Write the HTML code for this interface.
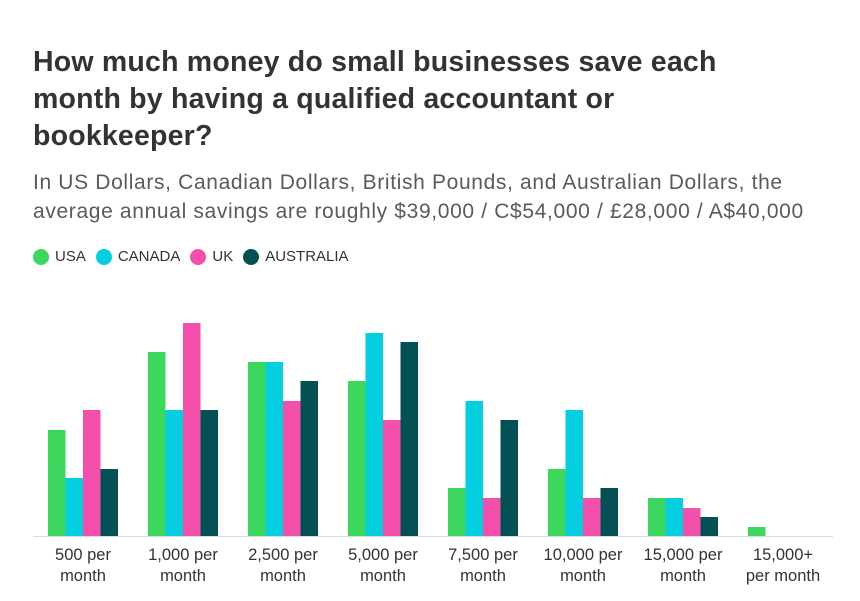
<!DOCTYPE html>
<html><head><meta charset="utf-8"><style>
body{margin:0;width:860px;height:601px;background:#fff;font-family:"Liberation Sans",sans-serif;overflow:hidden;position:relative}
h1{position:absolute;left:33px;top:44px;margin:0;font-size:28.5px;line-height:37px;font-weight:bold;color:#333;width:720px;letter-spacing:0.2px}
.sub{position:absolute;left:33px;top:168px;font-size:21px;line-height:29px;color:#5a5a5a;width:815px;letter-spacing:0.65px}
.leg{position:absolute;top:248px;left:33px;font-size:15px;color:#333;display:flex;align-items:center}
.leg span.d{display:inline-block;width:16px;height:16px;border-radius:50%;margin-right:6px}
.leg span.t{margin-right:10px}
</style></head><body>
<h1>How much money do small businesses save each month by having a qualified accountant or bookkeeper?</h1>
<div class="sub">In US Dollars, Canadian Dollars, British Pounds, and Australian Dollars, the average annual savings are roughly $39,000 / C$54,000 / £28,000 / A$40,000</div>
<div class="leg"><span class="d" style="background:#3bd85d"></span><span class="t">USA</span><span class="d" style="background:#03cfe0"></span><span class="t">CANADA</span><span class="d" style="background:#f54fac"></span><span class="t">UK</span><span class="d" style="background:#035055"></span><span class="t">AUSTRALIA</span></div>
<svg width="860" height="601" style="position:absolute;left:0;top:0">
<line x1="33" y1="536.5" x2="833" y2="536.5" stroke="#d3dde5" stroke-width="1"/>
<g font-size="16.5" fill="#333" text-anchor="middle" font-family="Liberation Sans, sans-serif">
<text x="83" y="560">500 per</text><text x="83" y="581">month</text>
<text x="183" y="560">1,000 per</text><text x="183" y="581">month</text>
<text x="283" y="560">2,500 per</text><text x="283" y="581">month</text>
<text x="383" y="560">5,000 per</text><text x="383" y="581">month</text>
<text x="483" y="560">7,500 per</text><text x="483" y="581">month</text>
<text x="583" y="560">10,000 per</text><text x="583" y="581">month</text>
<text x="683" y="560">15,000 per</text><text x="683" y="581">month</text>
<text x="783" y="560">15,000+</text><text x="783" y="581">per month</text>
</g>
<g>
<rect x="48" y="430" width="17.5" height="106" fill="#3bd85d"/><rect x="65.5" y="478" width="17.5" height="58" fill="#03cfe0"/><rect x="83" y="410" width="17.5" height="126" fill="#f54fac"/><rect x="100.5" y="469" width="17.5" height="67" fill="#035055"/>
<rect x="148" y="352" width="17.5" height="184" fill="#3bd85d"/><rect x="165.5" y="410" width="17.5" height="126" fill="#03cfe0"/><rect x="183" y="323" width="17.5" height="213" fill="#f54fac"/><rect x="200.5" y="410" width="17.5" height="126" fill="#035055"/>
<rect x="248" y="362" width="17.5" height="174" fill="#3bd85d"/><rect x="265.5" y="362" width="17.5" height="174" fill="#03cfe0"/><rect x="283" y="401" width="17.5" height="135" fill="#f54fac"/><rect x="300.5" y="381" width="17.5" height="155" fill="#035055"/>
<rect x="348" y="381" width="17.5" height="155" fill="#3bd85d"/><rect x="365.5" y="333" width="17.5" height="203" fill="#03cfe0"/><rect x="383" y="420" width="17.5" height="116" fill="#f54fac"/><rect x="400.5" y="342" width="17.5" height="194" fill="#035055"/>
<rect x="448" y="488" width="17.5" height="48" fill="#3bd85d"/><rect x="465.5" y="401" width="17.5" height="135" fill="#03cfe0"/><rect x="483" y="498" width="17.5" height="38" fill="#f54fac"/><rect x="500.5" y="420" width="17.5" height="116" fill="#035055"/>
<rect x="548" y="469" width="17.5" height="67" fill="#3bd85d"/><rect x="565.5" y="410" width="17.5" height="126" fill="#03cfe0"/><rect x="583" y="498" width="17.5" height="38" fill="#f54fac"/><rect x="600.5" y="488" width="17.5" height="48" fill="#035055"/>
<rect x="648" y="498" width="17.5" height="38" fill="#3bd85d"/><rect x="665.5" y="498" width="17.5" height="38" fill="#03cfe0"/><rect x="683" y="508" width="17.5" height="28" fill="#f54fac"/><rect x="700.5" y="517" width="17.5" height="19" fill="#035055"/>
<rect x="748" y="527" width="17.5" height="9" fill="#3bd85d"/>
</g>
</svg>
</body></html>
